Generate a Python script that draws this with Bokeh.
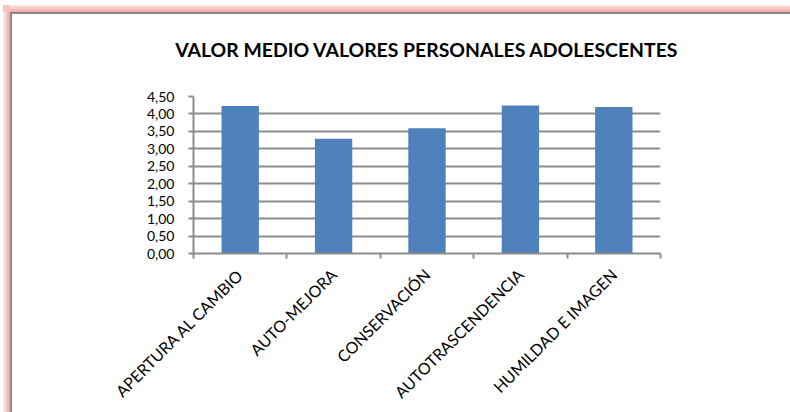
from math import pi
from bokeh.plotting import figure
from bokeh.models import (FactorRange, Range1d, LinearAxis, FixedTicker,
                          CustomJSTickFormatter)
from bokeh.embed import file_html
from bokeh.resources import INLINE

categories = ["APERTURA AL CAMBIO", "AUTO-MEJORA", "CONSERVACIÓN",
              "AUTOTRASCENDENCIA", "HUMILDAD E IMAGEN"]
values = [4.23, 3.29, 3.59, 4.24, 4.20]
y_ticks = [0.0, 0.5, 1.0, 1.5, 2.0, 2.5, 3.0, 3.5, 4.0, 4.5]
title_text = "VALOR MEDIO VALORES PERSONALES ADOLESCENTES"

FONT = "Lato"
GRAY = "#8c8c8c"

p = figure(width=790, height=412, output_backend="svg", toolbar_location=None,
           x_range=FactorRange(*categories), y_range=Range1d(0, 4.5),
           x_axis_location=None, y_axis_location=None,
           min_border_left=193, min_border_right=130,
           min_border_top=96, min_border_bottom=159,
           title=title_text)

# transparent canvas border so the page frame (CSS background) shows through
p.border_fill_color = None
p.background_fill_color = "white"
p.outline_line_color = None
left_strip = ("linear-gradient(to right, transparent 0px, transparent 3px, "
              "#fde4e4 3px, #fde4e4 5px, #facdcd 5px, #facdcd 7px, "
              "#f6b6b6 7px, #f6b6b6 9px, #f3a5a5 9px, #f3a5a5 10px, "
              "#8a8a8a 10px, #8a8a8a 12px)")
top_strip = ("linear-gradient(to bottom, transparent 0px, transparent 5px, "
             "#fde4e4 5px, #fde4e4 7px, #facdcd 7px, #facdcd 9px, "
             "#f6b6b6 9px, #f6b6b6 11px, #f3a5a5 11px, #f3a5a5 12px, "
             "#8a8a8a 12px, #8a8a8a 14px)")
corner = "linear-gradient(#f8c2c2, #f8c2c2)"
p.styles = {
    "background-image": f"{left_strip}, {top_strip}, {corner}",
    "background-position": "0px 12px, 10px 0px, 3px 5px",
    "background-size": "12px 100%, 100% 14px, 7px 7px",
    "background-repeat": "no-repeat, no-repeat, no-repeat",
}

p.title.text_font = FONT
p.title.text_font_style = "bold"
p.title.text_font_size = "19.4px"
p.title.align = "center"
p.title.standoff = 71
p.title.text_color = "black"

# y axis
yax = LinearAxis(ticker=FixedTicker(ticks=y_ticks),
                 formatter=CustomJSTickFormatter(code="return tick.toFixed(2).replace('.', ',');"))
yax.axis_line_color = GRAY
yax.axis_line_width = 2
yax.major_tick_line_color = GRAY
yax.major_tick_line_width = 2
yax.major_tick_out = 5
yax.major_tick_in = 0
yax.minor_tick_line_color = None
yax.major_label_standoff = 14
yax.major_label_text_font = FONT
yax.major_label_text_font_size = "14px"
yax.major_label_text_color = "black"
p.add_layout(yax, "left")

# x axis: labels at category centres, tick marks at boundaries
n = len(categories)
centers = [i + 0.5 for i in range(n)]
bounds = [float(i) for i in range(n + 1)]
xax = LinearAxis(ticker=FixedTicker(ticks=centers, minor_ticks=bounds),
                 formatter=CustomJSTickFormatter(args=dict(cats=categories),
                                                 code="return cats[Math.floor(tick)];"))
xax.axis_line_color = GRAY
xax.axis_line_width = 2
xax.major_tick_line_color = None
xax.minor_tick_line_color = GRAY
xax.minor_tick_line_width = 2
xax.minor_tick_out = 5
xax.minor_tick_in = 0
xax.major_label_orientation = pi / 4
xax.major_label_standoff = 12
xax.major_label_text_font = FONT
xax.major_label_text_font_size = "16px"
xax.major_label_text_color = "black"
p.add_layout(xax, "below")

p.xgrid.visible = False
p.ygrid.ticker = FixedTicker(ticks=y_ticks)
p.ygrid.grid_line_color = GRAY
p.ygrid.grid_line_width = 2

p.vbar(x=categories, top=values, width=0.4, fill_color="#4f81bd", line_color=None)

open("out.html", "w").write(file_html(p, INLINE))
